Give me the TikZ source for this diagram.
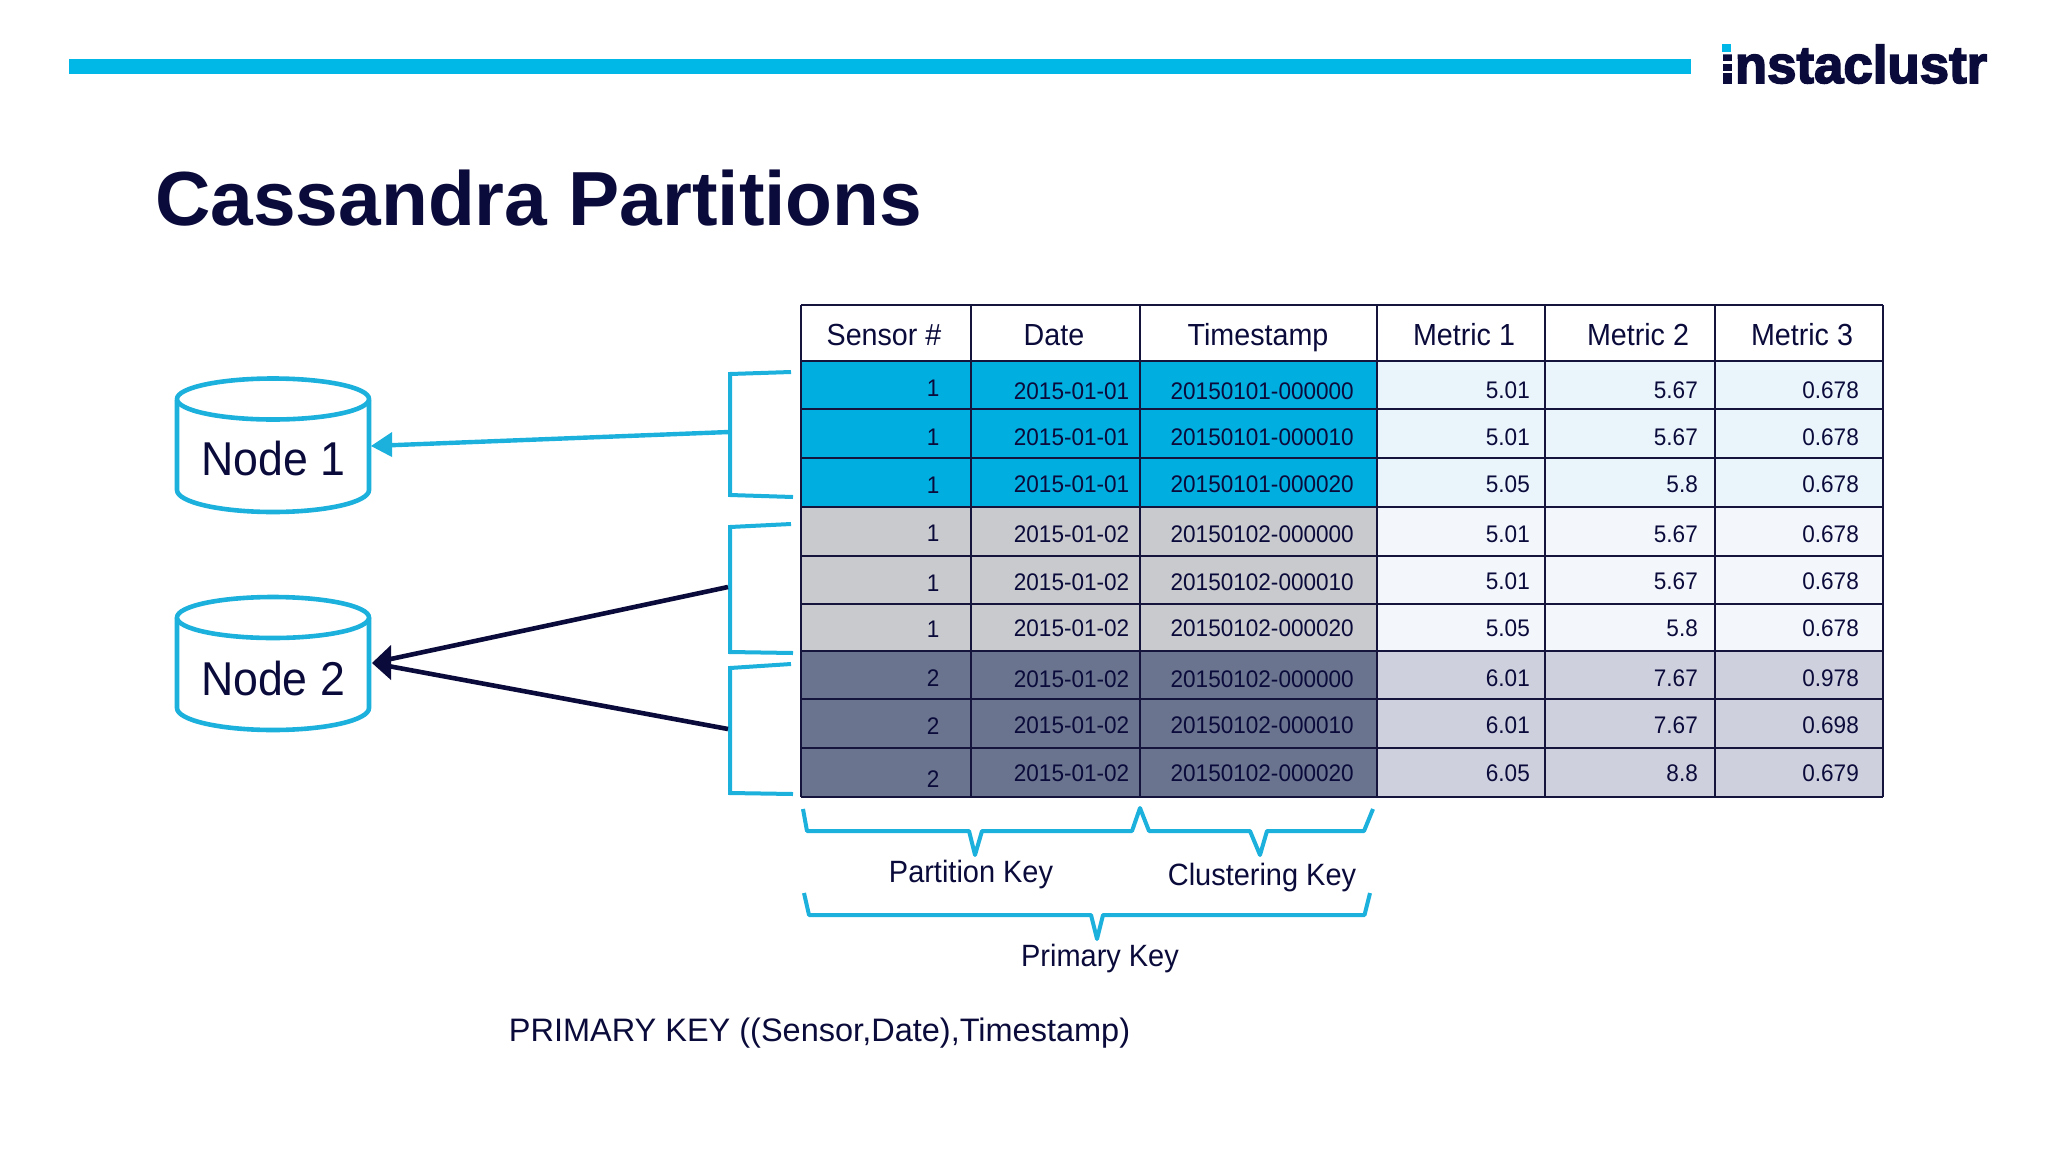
\documentclass[tikz,border=0pt]{standalone}
\usepackage{fontspec}
\setmainfont{Liberation Sans}
\newfontfamily\tablefont[FakeStretch=0.94]{Liberation Sans}
\newfontfamily\logofont[FakeBold=3]{Liberation Sans Bold}
\newcommand{\pxfont}[1]{\fontsize{#1}{#1}\selectfont}
\definecolor{navy}{HTML}{0B0B3B}
\definecolor{cyanbar}{HTML}{00B8E8}
\definecolor{cyanline}{HTML}{1CB0DC}
\definecolor{rowblue}{HTML}{00AEE0}
\definecolor{rowgray}{HTML}{C9CACD}
\definecolor{rowdark}{HTML}{6A748E}
\definecolor{mblue}{HTML}{EAF4FB}
\definecolor{mgray}{HTML}{F3F6FB}
\definecolor{mdark}{HTML}{CFD0DD}
\definecolor{gridline}{HTML}{14143C}
\tikzset{
  brace/.style={draw=cyanline,line width=4pt,line join=round},
  grid/.style={draw=gridline,line width=2.5pt},
  headtext/.style={font=\tablefont\pxfont{30.5},text=navy,inner sep=0pt,anchor=base},
  celltext/.style={font=\tablefont\pxfont{24},text=navy,inner sep=0pt,anchor=east},
  keytext/.style={font=\tablefont\pxfont{30.8},text=navy,inner sep=0pt,anchor=base},
  nodetext/.style={font=\tablefont\pxfont{47.5},text=navy,inner sep=0pt},
  cyl/.style={draw=cyanline,line width=4.6pt,fill=white},
  arrowblue/.style={draw=cyanline,line width=4.4pt,shorten >=12pt},
  arrowdark/.style={draw=navy,line width=4.6pt,shorten >=12pt},
}
\begin{document}
\begin{tikzpicture}[x=1pt,y=-1pt]
\useasboundingbox (0,0) rectangle (2048,1152);
\fill[white] (0,0) rectangle (2048,1152);
% top bar
\fill[cyanbar] (69,59) rectangle (1691,74);
% logo
\node[font=\logofont\pxfont{52.8},text=navy,inner sep=0pt,anchor=base west] (logo) at (1720,83) {instaclustr};
\fill[white] (1719,40) rectangle (1734,53);
\fill[white] (1719,61) rectangle (1734,63.5);
\fill[white] (1719,70.5) rectangle (1734,73);
\fill[cyanbar] (1722,44) rectangle (1731,52);
% title
\node[font=\bfseries\pxfont{76.7},text=navy,inner sep=0pt,anchor=base west] (title) at (155,225) {Cassandra Partitions};
% table fills
\fill[rowblue] (801,361) rectangle (1377,507);
\fill[rowgray] (801,507) rectangle (1377,651);
\fill[rowdark] (801,651) rectangle (1377,797);
\fill[white] (801,305) rectangle (1883,361);
\fill[mblue] (1377,361) rectangle (1883,507);
\fill[mgray] (1377,507) rectangle (1883,651);
\fill[mdark] (1377,651) rectangle (1883,797);
% table grid
\foreach \gy in {305,361,409,458,507,556,604,651,699,748,797}
  \draw[grid] (801,\gy) -- (1883,\gy);
\foreach \gx in {801,971,1140,1377,1545,1715,1883}
  \draw[grid] (\gx,305) -- (\gx,797);
% headers
\node[headtext] (h1) at (884,345) {Sensor \#};
\node[headtext] (h2) at (1054,345) {Date};
\node[headtext] (h3) at (1258,345) {Timestamp};
\node[headtext] (h4) at (1464,345) {Metric 1};
\node[headtext] (h5) at (1638,345) {Metric 2};
\node[headtext] (h6) at (1802,345) {Metric 3};
% rows
\foreach \rw/\ys/\yd/\ym/\vs/\vd/\vt/\ma/\mb/\mc in {
 1/388/391/390/1/2015-01-01/20150101-000000/5.01/5.67/0.678,
 2/437/437/437.5/1/2015-01-01/20150101-000010/5.01/5.67/0.678,
 3/485/484/484.5/1/2015-01-01/20150101-000020/5.05/5.8/0.678,
 4/533/534/534/1/2015-01-02/20150102-000000/5.01/5.67/0.678,
 5/583/582/581/1/2015-01-02/20150102-000010/5.01/5.67/0.678,
 6/629/628/628/1/2015-01-02/20150102-000020/5.05/5.8/0.678,
 7/678/679/678/2/2015-01-02/20150102-000000/6.01/7.67/0.978,
 8/726/725/725/2/2015-01-02/20150102-000010/6.01/7.67/0.698,
 9/779/773/773/2/2015-01-02/20150102-000020/6.05/8.8/0.679}{
  \node[celltext] (s\rw) at (939.5,\ys) {\vs};
  \node[celltext] (d\rw) at (1129.5,\yd) {\vd};
  \node[celltext] (t\rw) at (1354,\yd) {\vt};
  \node[celltext] (ma\rw) at (1530,\ym) {\ma};
  \node[celltext] (mb\rw) at (1698,\ym) {\mb};
  \node[celltext] (mc\rw) at (1859,\ym) {\mc};
}
% cylinders
\draw[cyl] (177,400) -- (177,490) arc[start angle=180,end angle=0,x radius=96,y radius=22] -- (369,400);
\draw[cyl] (273,399) ellipse[x radius=96,y radius=20.5];
\node[nodetext] (n1) at (273.5,459) {Node 1};
\draw[cyl] (177,618) -- (177,708) arc[start angle=180,end angle=0,x radius=96,y radius=22] -- (369,618);
\draw[cyl] (273,617.5) ellipse[x radius=96,y radius=20.5];
\node[nodetext] (n2) at (273,679) {Node 2};
% side brackets
\draw[brace,line join=miter] (791,372) -- (730,374) -- (730,495) -- (793,497);
\draw[brace,line join=miter] (791,524) -- (730,527) -- (730,652) -- (793,653);
\draw[brace,line join=miter] (791,664) -- (730,668) -- (730,793) -- (793,794);
\coordinate (b1) at (729,432);
\coordinate (b2) at (728,587);
\coordinate (b3) at (728,729);
\coordinate (n1in) at (371,446);
\coordinate (n2in) at (372,663);
\draw[arrowblue] (b1) -- (n1in);
\fill[cyanline] (371,446) -- (392,432) -- (392,457) -- cycle;
\draw[arrowdark] (b2) -- (n2in);
\draw[arrowdark] (b3) -- (n2in);
\fill[navy] (372,663) -- (391,645) -- (391,680) -- cycle;
% key braces
\draw[brace] (803,809) -- (807,831) -- (969,831) -- (975,855) -- (982,831) -- (1132,831) -- (1140,808) -- (1149,831) -- (1250,831) -- (1260,855) -- (1267,831) -- (1364,831) -- (1373,809);
\draw[brace] (804,893) -- (809,915) -- (1091,915) -- (1097,939) -- (1103,915) -- (1364.5,915) -- (1370,893);
\node[keytext] (pk) at (971,882) {Partition Key};
\node[keytext] (ck) at (1262,885) {Clustering Key};
\node[keytext] (prk) at (1100,966) {Primary Key};
\node[font=\pxfont{32.5},text=navy,inner sep=0pt] (pkdef) at (819.5,1033) {PRIMARY KEY ((Sensor,Date),Timestamp)};
\end{tikzpicture}
\end{document}
